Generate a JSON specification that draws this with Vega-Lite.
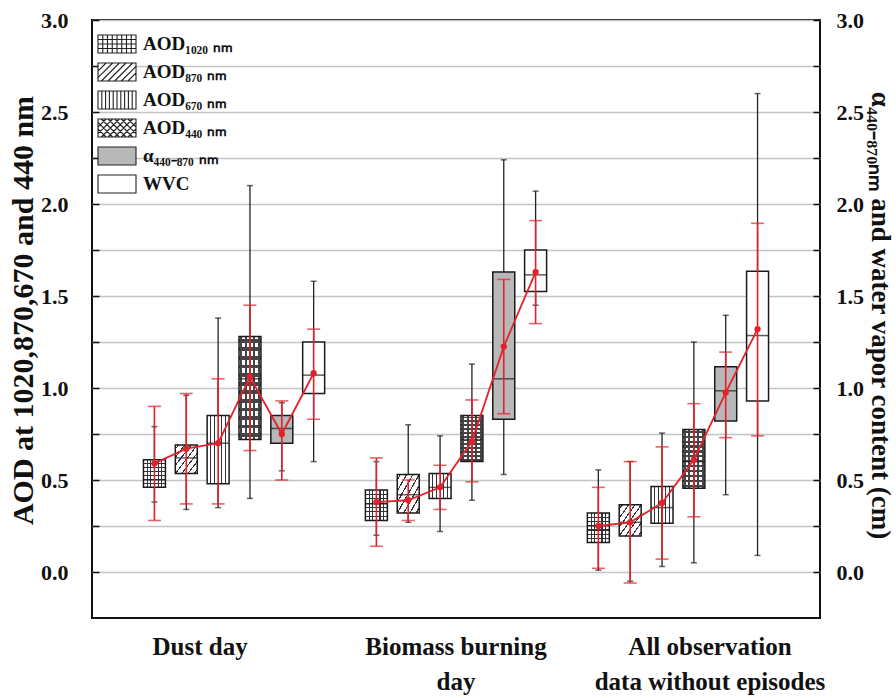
{
  "$schema": "https://vega.github.io/schema/vega-lite/v6.json",
  "width": 728,
  "height": 598,
  "autosize": {"type": "none"},
  "padding": {"left": 92, "top": 20, "right": 76, "bottom": 80},
  "background": "white",
  "config": {
    "view": {"stroke": "#111", "strokeWidth": 2},
    "font": "Liberation Serif",
    "axis": {"labelFont": "Liberation Serif", "titleFont": "Liberation Serif", "labelFontWeight": "bold", "titleFontWeight": "bold", "labelColor": "#111", "titleColor": "#111"}
  },
  "data": {
    "values": [
      {"group": "Dust day", "var": "AOD₁₀₂₀ ₙₘ", "min": 0.38, "q1": 0.46, "med": 0.5, "q3": 0.61, "max": 0.79, "mean": 0.59, "lo": 0.28, "hi": 0.9},
      {"group": "Dust day", "var": "AOD₈₇₀ ₙₘ", "min": 0.34, "q1": 0.535, "med": 0.62, "q3": 0.69, "max": 0.96, "mean": 0.67, "lo": 0.37, "hi": 0.97},
      {"group": "Dust day", "var": "AOD₆₇₀ ₙₘ", "min": 0.35, "q1": 0.48, "med": 0.7, "q3": 0.85, "max": 1.38, "mean": 0.7, "lo": 0.37, "hi": 1.05},
      {"group": "Dust day", "var": "AOD₄₄₀ ₙₘ", "min": 0.4, "q1": 0.72, "med": 1.05, "q3": 1.28, "max": 2.1, "mean": 1.06, "lo": 0.66, "hi": 1.45},
      {"group": "Dust day", "var": "α₄₄₀₋₈₇₀ ₙₘ", "min": 0.55, "q1": 0.7, "med": 0.78, "q3": 0.85, "max": 0.92, "mean": 0.75, "lo": 0.5, "hi": 0.93},
      {"group": "Dust day", "var": "WVC", "min": 0.6, "q1": 0.97, "med": 1.07, "q3": 1.25, "max": 1.58, "mean": 1.08, "lo": 0.83, "hi": 1.32},
      {"group": "Biomass burning|day", "var": "AOD₁₀₂₀ ₙₘ", "min": 0.2, "q1": 0.28, "med": 0.37, "q3": 0.445, "max": 0.6, "mean": 0.38, "lo": 0.14, "hi": 0.62},
      {"group": "Biomass burning|day", "var": "AOD₈₇₀ ₙₘ", "min": 0.27, "q1": 0.32, "med": 0.42, "q3": 0.53, "max": 0.8, "mean": 0.39, "lo": 0.28, "hi": 0.5},
      {"group": "Biomass burning|day", "var": "AOD₆₇₀ ₙₘ", "min": 0.22, "q1": 0.4, "med": 0.46, "q3": 0.535, "max": 0.74, "mean": 0.46, "lo": 0.34, "hi": 0.58},
      {"group": "Biomass burning|day", "var": "AOD₄₄₀ ₙₘ", "min": 0.39, "q1": 0.6, "med": 0.72, "q3": 0.85, "max": 1.13, "mean": 0.71, "lo": 0.49, "hi": 0.935},
      {"group": "Biomass burning|day", "var": "α₄₄₀₋₈₇₀ ₙₘ", "min": 0.53, "q1": 0.83, "med": 1.05, "q3": 1.63, "max": 2.24, "mean": 1.225, "lo": 0.86, "hi": 1.59},
      {"group": "Biomass burning|day", "var": "WVC", "min": 1.45, "q1": 1.525, "med": 1.615, "q3": 1.75, "max": 2.07, "mean": 1.63, "lo": 1.35, "hi": 1.91},
      {"group": "All observation|data without episodes", "var": "AOD₁₀₂₀ ₙₘ", "min": 0.01, "q1": 0.16, "med": 0.25, "q3": 0.32, "max": 0.555, "mean": 0.25, "lo": 0.02, "hi": 0.46},
      {"group": "All observation|data without episodes", "var": "AOD₈₇₀ ₙₘ", "min": -0.05, "q1": 0.195, "med": 0.27, "q3": 0.365, "max": 0.6, "mean": 0.27, "lo": -0.06, "hi": 0.6},
      {"group": "All observation|data without episodes", "var": "AOD₆₇₀ ₙₘ", "min": 0.03, "q1": 0.265, "med": 0.35, "q3": 0.465, "max": 0.755, "mean": 0.375, "lo": 0.07, "hi": 0.68},
      {"group": "All observation|data without episodes", "var": "AOD₄₄₀ ₙₘ", "min": 0.05, "q1": 0.455, "med": 0.6, "q3": 0.775, "max": 1.25, "mean": 0.61, "lo": 0.3, "hi": 0.915},
      {"group": "All observation|data without episodes", "var": "α₄₄₀₋₈₇₀ ₙₘ", "min": 0.42, "q1": 0.82, "med": 0.985, "q3": 1.115, "max": 1.395, "mean": 0.975, "lo": 0.73, "hi": 1.195},
      {"group": "All observation|data without episodes", "var": "WVC", "min": 0.09, "q1": 0.93, "med": 1.285, "q3": 1.635, "max": 2.6, "mean": 1.32, "lo": 0.74, "hi": 1.895}
    ]
  },
  "encoding": {
    "x": {
      "field": "group", "type": "nominal", "sort": null,
      "scale": {"paddingInner": 0, "paddingOuter": 0.14},
      "axis": {"title": null, "domain": false, "ticks": false, "labelAngle": 0, "labelFontSize": 25, "labelLimit": 0, "labelPadding": 16, "labelBaseline": "top", "labelLineHeight": 35, "labelExpr": "split(datum.label, '|')", "labelFont": "Liberation Serif", "labelFontWeight": "bold",
        "labelOffset": {"condition": [{"test": "datum.value == 'Dust day'", "value": -34}, {"test": "datum.value == 'All observation|data without episodes'", "value": 32}], "value": 0}}
    },
    "xOffset": {"field": "var", "type": "nominal", "sort": null, "scale": {"paddingInner": 0.31, "paddingOuter": 0.64}}
  },
  "layer": [
    {
      "mark": {"type": "rule", "color": "#222", "strokeWidth": 1.3},
      "encoding": {
        "y": {
          "field": "min", "type": "quantitative",
          "scale": {"domain": [-0.25, 3], "nice": false, "zero": false},
          "axis": {"orient": "left", "title": "AOD at 1020,870,670 and 440 nm", "titleY": 290, "values": [0, 0.25, 0.5, 0.75, 1, 1.25, 1.5, 1.75, 2, 2.25, 2.5, 2.75, 3], "labelExpr": "datum.value % 0.5 == 0 ? format(datum.value, '.1f') : ''", "labelOverlap": false, "labelFlush": false, "grid": true, "gridColor": "#c4c4c4", "gridWidth": 1.5, "domain": false, "tickColor": "#111", "tickWidth": 1.5, "tickSize": -7, "labelPadding": 31, "labelFontSize": 22, "titleFontSize": 30, "titlePadding": 2}
        },
        "y2": {"field": "max"}
      }
    },
    {
      "mark": {"type": "tick", "orient": "horizontal", "color": "#222", "size": 6, "thickness": 1.5},
      "encoding": {"y": {"field": "min", "type": "quantitative", "axis": null}}
    },
    {
      "mark": {"type": "tick", "orient": "horizontal", "color": "#222", "size": 6, "thickness": 1.5},
      "encoding": {"y": {"field": "max", "type": "quantitative", "axis": null}}
    },
    {
      "mark": {"type": "bar"},
      "encoding": {
        "y": {"field": "q1", "type": "quantitative", "axis": null},
        "y2": {"field": "q3"},
        "fill": {"condition": {"test": "datum['var'] == 'α₄₄₀₋₈₇₀ ₙₘ'", "value": "#b8b8b8"}, "value": "white"}
      }
    },
    {
      "transform": [{"filter": {"field": "var", "oneOf": ["AOD₁₀₂₀ ₙₘ", "AOD₆₇₀ ₙₘ"]}}],
      "mark": {"type": "bar", "fill": {"gradient": "linear", "x1": 0, "y1": 0, "x2": 1, "y2": 0, "stops": [
        {"offset": 0, "color": "#fff"}, {"offset": 0.145, "color": "#fff"}, {"offset": 0.145, "color": "#333"}, {"offset": 0.195, "color": "#333"}, {"offset": 0.195, "color": "#fff"},
        {"offset": 0.31, "color": "#fff"}, {"offset": 0.31, "color": "#333"}, {"offset": 0.36, "color": "#333"}, {"offset": 0.36, "color": "#fff"},
        {"offset": 0.475, "color": "#fff"}, {"offset": 0.475, "color": "#333"}, {"offset": 0.525, "color": "#333"}, {"offset": 0.525, "color": "#fff"},
        {"offset": 0.64, "color": "#fff"}, {"offset": 0.64, "color": "#333"}, {"offset": 0.69, "color": "#333"}, {"offset": 0.69, "color": "#fff"},
        {"offset": 0.805, "color": "#fff"}, {"offset": 0.805, "color": "#333"}, {"offset": 0.855, "color": "#333"}, {"offset": 0.855, "color": "#fff"},
        {"offset": 1, "color": "#fff"}]}},
      "encoding": {"y": {"field": "q1", "type": "quantitative", "axis": null}, "y2": {"field": "q3"}}
    },
    {
      "transform": [{"filter": {"field": "var", "equal": "AOD₁₀₂₀ ₙₘ"}}],
      "mark": {"type": "bar", "fill": {"gradient": "linear", "x1": 0, "y1": 0, "x2": 0, "y2": 1, "stops": [
        {"offset": 0, "color": "rgba(0,0,0,0)"}, {"offset": 0.123, "color": "rgba(0,0,0,0)"}, {"offset": 0.123, "color": "#333"}, {"offset": 0.163, "color": "#333"}, {"offset": 0.163, "color": "rgba(0,0,0,0)"},
        {"offset": 0.266, "color": "rgba(0,0,0,0)"}, {"offset": 0.266, "color": "#333"}, {"offset": 0.306, "color": "#333"}, {"offset": 0.306, "color": "rgba(0,0,0,0)"},
        {"offset": 0.409, "color": "rgba(0,0,0,0)"}, {"offset": 0.409, "color": "#333"}, {"offset": 0.449, "color": "#333"}, {"offset": 0.449, "color": "rgba(0,0,0,0)"},
        {"offset": 0.551, "color": "rgba(0,0,0,0)"}, {"offset": 0.551, "color": "#333"}, {"offset": 0.591, "color": "#333"}, {"offset": 0.591, "color": "rgba(0,0,0,0)"},
        {"offset": 0.694, "color": "rgba(0,0,0,0)"}, {"offset": 0.694, "color": "#333"}, {"offset": 0.734, "color": "#333"}, {"offset": 0.734, "color": "rgba(0,0,0,0)"},
        {"offset": 0.837, "color": "rgba(0,0,0,0)"}, {"offset": 0.837, "color": "#333"}, {"offset": 0.877, "color": "#333"}, {"offset": 0.877, "color": "rgba(0,0,0,0)"},
        {"offset": 1, "color": "rgba(0,0,0,0)"}]}},
      "encoding": {"y": {"field": "q1", "type": "quantitative", "axis": null}, "y2": {"field": "q3"}}
    },
    {
      "transform": [{"filter": {"field": "var", "equal": "AOD₈₇₀ ₙₘ"}}],
      "mark": {"type": "bar", "fill": {"gradient": "linear", "x1": 0, "y1": 0, "x2": 1, "y2": 1, "stops": [
        {"offset": 0, "color": "#fff"}, {"offset": 0.056, "color": "#fff"}, {"offset": 0.056, "color": "#333"}, {"offset": 0.086, "color": "#333"}, {"offset": 0.086, "color": "#fff"},
        {"offset": 0.199, "color": "#fff"}, {"offset": 0.199, "color": "#333"}, {"offset": 0.229, "color": "#333"}, {"offset": 0.229, "color": "#fff"},
        {"offset": 0.342, "color": "#fff"}, {"offset": 0.342, "color": "#333"}, {"offset": 0.372, "color": "#333"}, {"offset": 0.372, "color": "#fff"},
        {"offset": 0.485, "color": "#fff"}, {"offset": 0.485, "color": "#333"}, {"offset": 0.515, "color": "#333"}, {"offset": 0.515, "color": "#fff"},
        {"offset": 0.628, "color": "#fff"}, {"offset": 0.628, "color": "#333"}, {"offset": 0.658, "color": "#333"}, {"offset": 0.658, "color": "#fff"},
        {"offset": 0.771, "color": "#fff"}, {"offset": 0.771, "color": "#333"}, {"offset": 0.801, "color": "#333"}, {"offset": 0.801, "color": "#fff"},
        {"offset": 0.914, "color": "#fff"}, {"offset": 0.914, "color": "#333"}, {"offset": 0.944, "color": "#333"}, {"offset": 0.944, "color": "#fff"},
        {"offset": 1, "color": "#fff"}]}},
      "encoding": {"y": {"field": "q1", "type": "quantitative", "axis": null}, "y2": {"field": "q3"}}
    },
    {
      "transform": [{"filter": {"field": "var", "equal": "AOD₄₄₀ ₙₘ"}}],
      "mark": {"type": "bar", "fill": {"gradient": "linear", "x1": 0, "y1": 0, "x2": 1, "y2": 0, "stops": [
        {"offset": 0, "color": "#fff"}, {"offset": 0.055, "color": "#fff"}, {"offset": 0.055, "color": "#444"}, {"offset": 0.145, "color": "#444"}, {"offset": 0.145, "color": "#fff"},
        {"offset": 0.255, "color": "#fff"}, {"offset": 0.255, "color": "#444"}, {"offset": 0.345, "color": "#444"}, {"offset": 0.345, "color": "#fff"},
        {"offset": 0.455, "color": "#fff"}, {"offset": 0.455, "color": "#444"}, {"offset": 0.545, "color": "#444"}, {"offset": 0.545, "color": "#fff"},
        {"offset": 0.655, "color": "#fff"}, {"offset": 0.655, "color": "#444"}, {"offset": 0.745, "color": "#444"}, {"offset": 0.745, "color": "#fff"},
        {"offset": 0.855, "color": "#fff"}, {"offset": 0.855, "color": "#444"}, {"offset": 0.945, "color": "#444"}, {"offset": 0.945, "color": "#fff"},
        {"offset": 1, "color": "#fff"}]}},
      "encoding": {"y": {"field": "q1", "type": "quantitative", "axis": null}, "y2": {"field": "q3"}}
    },
    {
      "transform": [{"filter": {"field": "var", "equal": "AOD₄₄₀ ₙₘ"}}],
      "mark": {"type": "bar", "fill": {"gradient": "linear", "x1": 0, "y1": 0, "x2": 0, "y2": 1, "stops": [
        {"offset": 0, "color": "rgba(0,0,0,0)"},
        {"offset": 0.023, "color": "rgba(0,0,0,0)"}, {"offset": 0.023, "color": "#444"}, {"offset": 0.06, "color": "#444"}, {"offset": 0.06, "color": "rgba(0,0,0,0)"},
        {"offset": 0.106, "color": "rgba(0,0,0,0)"}, {"offset": 0.106, "color": "#444"}, {"offset": 0.143, "color": "#444"}, {"offset": 0.143, "color": "rgba(0,0,0,0)"},
        {"offset": 0.19, "color": "rgba(0,0,0,0)"}, {"offset": 0.19, "color": "#444"}, {"offset": 0.227, "color": "#444"}, {"offset": 0.227, "color": "rgba(0,0,0,0)"},
        {"offset": 0.273, "color": "rgba(0,0,0,0)"}, {"offset": 0.273, "color": "#444"}, {"offset": 0.31, "color": "#444"}, {"offset": 0.31, "color": "rgba(0,0,0,0)"},
        {"offset": 0.356, "color": "rgba(0,0,0,0)"}, {"offset": 0.356, "color": "#444"}, {"offset": 0.393, "color": "#444"}, {"offset": 0.393, "color": "rgba(0,0,0,0)"},
        {"offset": 0.44, "color": "rgba(0,0,0,0)"}, {"offset": 0.44, "color": "#444"}, {"offset": 0.477, "color": "#444"}, {"offset": 0.477, "color": "rgba(0,0,0,0)"},
        {"offset": 0.523, "color": "rgba(0,0,0,0)"}, {"offset": 0.523, "color": "#444"}, {"offset": 0.56, "color": "#444"}, {"offset": 0.56, "color": "rgba(0,0,0,0)"},
        {"offset": 0.606, "color": "rgba(0,0,0,0)"}, {"offset": 0.606, "color": "#444"}, {"offset": 0.643, "color": "#444"}, {"offset": 0.643, "color": "rgba(0,0,0,0)"},
        {"offset": 0.69, "color": "rgba(0,0,0,0)"}, {"offset": 0.69, "color": "#444"}, {"offset": 0.727, "color": "#444"}, {"offset": 0.727, "color": "rgba(0,0,0,0)"},
        {"offset": 0.773, "color": "rgba(0,0,0,0)"}, {"offset": 0.773, "color": "#444"}, {"offset": 0.81, "color": "#444"}, {"offset": 0.81, "color": "rgba(0,0,0,0)"},
        {"offset": 0.856, "color": "rgba(0,0,0,0)"}, {"offset": 0.856, "color": "#444"}, {"offset": 0.893, "color": "#444"}, {"offset": 0.893, "color": "rgba(0,0,0,0)"},
        {"offset": 0.94, "color": "rgba(0,0,0,0)"}, {"offset": 0.94, "color": "#444"}, {"offset": 0.977, "color": "#444"}, {"offset": 0.977, "color": "rgba(0,0,0,0)"},
        {"offset": 1, "color": "rgba(0,0,0,0)"}]}},
      "encoding": {"y": {"field": "q1", "type": "quantitative", "axis": null}, "y2": {"field": "q3"}}
    },
    {
      "mark": {"type": "bar", "filled": false, "color": "#1a1a1a", "strokeWidth": 1.5},
      "encoding": {"y": {"field": "q1", "type": "quantitative", "axis": null}, "y2": {"field": "q3"}}
    },
    {
      "mark": {"type": "tick", "orient": "horizontal", "color": "#1a1a1a", "size": 22, "thickness": 1.5},
      "encoding": {"y": {"field": "med", "type": "quantitative", "axis": null}}
    },
    {
      "mark": {"type": "rule", "color": "#e3212b", "strokeWidth": 1.6},
      "encoding": {"y": {"field": "lo", "type": "quantitative", "axis": null}, "y2": {"field": "hi"}}
    },
    {
      "mark": {"type": "tick", "orient": "horizontal", "color": "#e3212b", "size": 13, "thickness": 1.6},
      "encoding": {"y": {"field": "lo", "type": "quantitative", "axis": null}}
    },
    {
      "mark": {"type": "tick", "orient": "horizontal", "color": "#e3212b", "size": 13, "thickness": 1.6},
      "encoding": {"y": {"field": "hi", "type": "quantitative", "axis": null}}
    },
    {
      "mark": {"type": "line", "color": "#e3212b", "strokeWidth": 1.8},
      "encoding": {"y": {"field": "mean", "type": "quantitative", "axis": null}, "detail": {"field": "group"}}
    },
    {
      "mark": {"type": "circle", "color": "#e3212b", "size": 40, "opacity": 1},
      "encoding": {
        "y": {
          "field": "mean", "type": "quantitative",
          "scale": {"domain": [-0.25, 3], "nice": false, "zero": false},
          "axis": {"orient": "right", "title": "α₄₄₀₋₈₇₀ₙₘ and water vapor content (cm)", "titleAngle": 90, "titleY": 295, "values": [0, 0.25, 0.5, 0.75, 1, 1.25, 1.5, 1.75, 2, 2.25, 2.5, 2.75, 3], "labelExpr": "datum.value % 0.5 == 0 ? format(datum.value, '.1f') : ''", "labelOverlap": false, "labelFlush": false, "grid": false, "domain": false, "tickColor": "#111", "tickWidth": 1.5, "tickSize": -7, "labelPadding": 23, "labelFontSize": 22, "titleFontSize": 27, "titlePadding": 2}
        }
      }
    },
    {
      "mark": {"type": "point", "filled": true, "opacity": 0},
      "encoding": {
        "y": {"field": "mean", "type": "quantitative", "axis": null},
        "shape": {
          "field": "var", "type": "nominal", "sort": null,
          "scale": {
            "domain": ["AOD₁₀₂₀ ₙₘ", "AOD₈₇₀ ₙₘ", "AOD₆₇₀ ₙₘ", "AOD₄₄₀ ₙₘ", "α₄₄₀₋₈₇₀ ₙₘ", "WVC"],
            "range": [
              "M-1.9,-0.9H1.9V0.9H-1.9ZM-1.425,-0.9V0.9M-0.95,-0.9V0.9M-0.475,-0.9V0.9M0,-0.9V0.9M0.475,-0.9V0.9M0.95,-0.9V0.9M1.425,-0.9V0.9M-1.9,-0.45H1.9M-1.9,0H1.9M-1.9,0.45H1.9",
              "M-1.9,-0.9H1.9V0.9H-1.9ZM-1.9,-0.095L-1.095,-0.9M-1.9,0.57L-0.43,-0.9M-1.565,0.9L0.235,-0.9M-0.9,0.9L0.9,-0.9M-0.235,0.9L1.565,-0.9M0.43,0.9L1.9,-0.57M1.095,0.9L1.9,0.095",
              "M-1.9,-0.9H1.9V0.9H-1.9ZM-1.52,-0.9V0.9M-1.14,-0.9V0.9M-0.76,-0.9V0.9M-0.38,-0.9V0.9M0,-0.9V0.9M0.38,-0.9V0.9M0.76,-0.9V0.9M1.14,-0.9V0.9M1.52,-0.9V0.9",
              "M-1.9,-0.9H1.9V0.9H-1.9ZM-1.9,-0.095L-1.095,-0.9M-1.9,0.57L-0.43,-0.9M-1.565,0.9L0.235,-0.9M-0.9,0.9L0.9,-0.9M-0.235,0.9L1.565,-0.9M0.43,0.9L1.9,-0.57M1.095,0.9L1.9,0.095M1.9,-0.095L1.095,-0.9M1.9,0.57L0.43,-0.9M1.565,0.9L-0.235,-0.9M0.9,0.9L-0.9,-0.9M0.235,0.9L-1.565,-0.9M-0.43,0.9L-1.9,-0.57M-1.095,0.9L-1.9,0.095",
              "M-1.9,-0.9H1.9V0.9H-1.9Z",
              "M-1.9,-0.9H1.9V0.9H-1.9Z"
            ]
          },
          "legend": {"title": null, "orient": "none", "legendX": 14, "legendY": 13, "labelFont": "Liberation Serif", "labelFontWeight": "bold", "labelFontSize": 19, "labelColor": "#111", "symbolSize": 400, "rowPadding": 4, "labelOffset": 15, "encode": {"symbols": {"update": {"stroke": {"value": "#222"}, "strokeWidth": {"value": 1.1}, "opacity": {"value": 1}}}}}
        },
        "fill": {
          "field": "var", "type": "nominal", "sort": null,
          "scale": {"domain": ["AOD₁₀₂₀ ₙₘ", "AOD₈₇₀ ₙₘ", "AOD₆₇₀ ₙₘ", "AOD₄₄₀ ₙₘ", "α₄₄₀₋₈₇₀ ₙₘ", "WVC"], "range": ["white", "white", "white", "white", "#b8b8b8", "white"]},
          "legend": {"title": null, "orient": "none", "legendX": 14, "legendY": 13, "labelFont": "Liberation Serif", "labelFontWeight": "bold", "labelFontSize": 19, "labelColor": "#111", "symbolSize": 400, "rowPadding": 4, "labelOffset": 15, "encode": {"symbols": {"update": {"stroke": {"value": "#222"}, "strokeWidth": {"value": 1.1}, "opacity": {"value": 1}}}}}
        }
      }
    }
  ],
  "resolve": {"axis": {"y": "independent"}}
}
